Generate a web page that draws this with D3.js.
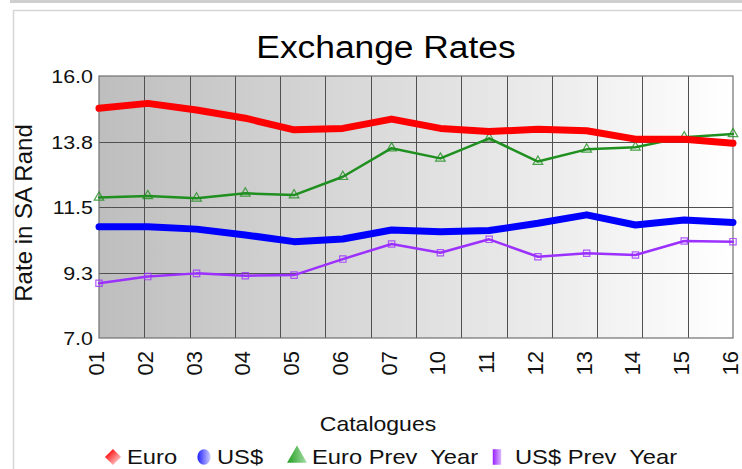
<!DOCTYPE html>
<html>
<head>
<meta charset="utf-8">
<script src="https://cdn.jsdelivr.net/npm/d3@7"></script>
<style>
html,body{margin:0;padding:0;background:#fff;}
svg{display:block;font-family:"Liberation Sans",Arial,sans-serif;}
text{white-space:pre;}
</style>
</head>
<body>
<svg id="chart" width="742" height="469"></svg>
<script>
const categories = ["01","02","03","04","05","06","07","10","11","12","13","14","15","16"];
const euro     = [14.89,15.06,14.83,14.55,14.15,14.20,14.52,14.20,14.09,14.17,14.12,13.83,13.83,13.69];
const usd      = [10.82,10.82,10.74,10.54,10.31,10.40,10.71,10.65,10.69,10.94,11.23,10.88,11.05,10.97];
const euroPrev = [11.83,11.88,11.80,11.97,11.91,12.54,13.52,13.17,13.86,13.06,13.48,13.55,13.90,14.01];
const usdPrev  = [8.88,9.11,9.22,9.14,9.16,9.71,10.23,9.93,10.39,9.79,9.91,9.85,10.33,10.31];
const yTicks = [7.0, 9.25, 11.5, 13.75, 16.0];
const yTickLabels = ["7.0","9.3","11.5","13.8","16.0"];
const seriesNames = ["Euro","US$","Euro Prev  Year","US$ Prev  Year"];
const titleText = "Exchange Rates";
const xTitle = "Catalogues";
const yTitle = "Rate in SA Rand";
const gridBands = 14;

const svg = d3.select("#chart");
const L = 99, R = 733, T = 76, B = 338;
const SX = 1.13;

const x = d3.scalePoint().domain(categories).range([L, R]);
const y = d3.scaleLinear().domain([7, 16]).range([B, T]);
const gx = d3.scaleLinear().domain([0, gridBands]).range([L, R]);

// outer frame
svg.append("rect").attr("x",10).attr("y",0).attr("width",732).attr("height",3).attr("fill","#cfcfcf");
svg.append("path").attr("d","M13.5,469 V10.5 H742").attr("fill","none").attr("stroke","#d6d6d6").attr("stroke-width",1.5);

// gradients
const defs = svg.append("defs");
const g1 = defs.append("linearGradient").attr("id","bg").attr("x1","0").attr("x2","1").attr("y1","0").attr("y2","0");
g1.append("stop").attr("offset","0").attr("stop-color","#bebebe");
g1.append("stop").attr("offset","1").attr("stop-color","#ffffff");

const mk = (id, c1, c2) => {
  const g = defs.append("linearGradient").attr("id",id).attr("x1","0").attr("x2","1");
  g.append("stop").attr("offset","0").attr("stop-color",c1);
  g.append("stop").attr("offset","1").attr("stop-color",c2);
};
mk("gRed","#ff2020","#ffb0b0");
mk("gBlue","#2020ff","#d0d0ff");
mk("gGreen","#20a020","#a8dca8");
mk("gPurple","#9a20ff","#dcb8ff");

svg.append("rect").attr("x",L).attr("y",T).attr("width",R-L).attr("height",B-T).attr("fill","url(#bg)");

// grid
svg.append("g").selectAll("line").data(d3.range(1, gridBands)).join("line")
  .attr("x1", d => Math.round(gx(d))+0.5).attr("x2", d => Math.round(gx(d))+0.5)
  .attr("y1", T).attr("y2", B).attr("stroke","#505050").attr("stroke-width",1);
svg.append("g").selectAll("line").data(yTicks.slice(1,-1)).join("line")
  .attr("x1", L).attr("x2", R)
  .attr("y1", d => Math.round(y(d))+0.5).attr("y2", d => Math.round(y(d))+0.5)
  .attr("stroke","#505050").attr("stroke-width",1);
svg.append("rect").attr("x",L).attr("y",T).attr("width",R-L).attr("height",B-T)
  .attr("fill","none").attr("stroke","#707070").attr("stroke-width",1.2);

// y tick labels
svg.append("g").selectAll("text").data(yTicks).join("text")
  .attr("transform", d => `translate(93,${y(d)+7}) scale(${SX},1)`)
  .attr("text-anchor","end").attr("font-size",19).attr("fill","#111")
  .text((d,i) => yTickLabels[i]);

// x tick labels
svg.append("g").selectAll("text").data(categories).join("text")
  .attr("transform", d => `translate(${x(d)+5},351) rotate(-90)`)
  .attr("text-anchor","end").attr("font-size",22).attr("fill","#111")
  .text(d => d);

// titles
svg.append("text").attr("transform",`translate(386,58) scale(1.14,1)`)
  .attr("text-anchor","middle").attr("font-size",31).attr("fill","#000").text(titleText);
svg.append("text").attr("transform",`translate(32,213) rotate(-90)`)
  .attr("text-anchor","middle").attr("font-size",24).attr("fill","#111").text(yTitle);
svg.append("text").attr("transform",`translate(378,431) scale(1.15,1)`)
  .attr("text-anchor","middle").attr("font-size",20).attr("fill","#111").text(xTitle);

// lines
const line = d3.line().x((d,i) => x(categories[i])).y(d => y(d));
const series = [
  {name:seriesNames[0], data:euro, color:"#ff0000", w:7, shape:d3.symbolSquare, grad:"gRed"},
  {name:seriesNames[1], data:usd, color:"#0000ff", w:7, shape:d3.symbolCircle, grad:"gBlue"},
  {name:seriesNames[2], data:euroPrev, color:"#1f8f1f", w:2.5, shape:d3.symbolTriangle, grad:"gGreen"},
  {name:seriesNames[3], data:usdPrev, color:"#9b30ff", w:2.5, shape:d3.symbolSquare, grad:"gPurple"}
];
const drawOrder = [2,3,0,1];
drawOrder.forEach(k => {
  const s = series[k];
  svg.append("path").datum(s.data).attr("d", line)
    .attr("fill","none").attr("stroke", s.color).attr("stroke-width", s.w)
    .attr("stroke-linejoin","round").attr("stroke-linecap","round");
  if (s.w < 5) {
    svg.append("g").selectAll("path").data(s.data).join("path")
      .attr("transform",(d,i) => `translate(${x(categories[i])},${y(d)})`)
      .attr("d", d3.symbol().type(s.shape).size(40))
      .attr("fill","none").attr("stroke", s.color).attr("stroke-width",1.2).attr("opacity",0.8);
  }
});

// legend
const legendItems = [
  {icon:113, text:127, tf:"rotate(45)", size:130},
  {icon:204, text:217, tf:"scale(0.85,1)", size:190},
  {icon:297, text:312, tf:"", size:170},
  {icon:497, text:515, tf:"scale(0.6,1.1)", size:200}
];
const lg = svg.append("g");
series.forEach((s, i) => {
  const it = legendItems[i];
  lg.append("path").attr("transform",`translate(${it.icon},457) ${it.tf}`)
    .attr("d", d3.symbol().type(s.shape).size(it.size))
    .attr("fill",`url(#${s.grad})`);
  lg.append("text").attr("transform",`translate(${it.text},464) scale(1.13,1)`)
    .attr("font-size",21).attr("fill","#111").text(s.name);
});
</script>
</body>
</html>
